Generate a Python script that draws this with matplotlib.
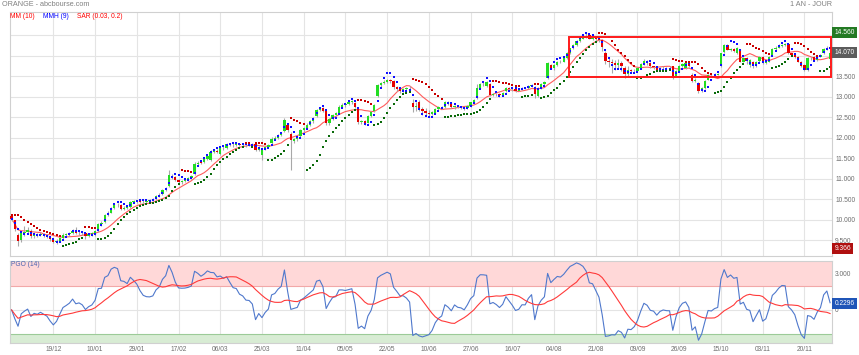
import numpy as np
import pandas as pd
import matplotlib
matplotlib.use('Agg')
import matplotlib.pyplot as plt
from matplotlib.patches import Rectangle
import matplotlib.transforms as mtransforms

plt.rcParams['font.family'] = ['Liberation Sans', 'DejaVu Sans']

# ---------------- data ----------------
date_labels = ['19/12', '10/01', '29/01', '17/02', '06/03', '25/03', '11/04', '05/05', '22/05',
               '10/06', '27/06', '16/07', '04/08', '21/08', '09/09', '26/09', '15/10', '03/11', '20/11']
first_label_idx = 13
label_step = 13

opens = [10.08, 9.98, 9.62, 9.50, 9.66, 9.70, 9.73, 9.60, 9.63, 9.62,
         9.64, 9.62, 9.58, 9.52, 9.46, 9.48, 9.55, 9.63, 9.65, 9.67,
         9.75, 9.67, 9.68, 9.66, 9.61, 9.64, 9.63, 9.72, 9.89, 9.94,
         10.11, 10.17, 10.29, 10.35, 10.35, 10.27, 10.29, 10.30, 10.44, 10.45,
         10.46, 10.44, 10.43, 10.45, 10.47, 10.50, 10.57, 10.62, 10.72, 10.82,
         11.07, 11.04, 10.97, 10.92, 10.94, 10.97, 11.01, 11.12, 11.36, 11.42,
         11.40, 11.48, 11.46, 11.66, 11.68, 11.60, 11.75, 11.75, 11.84, 11.82,
         11.81, 11.85, 11.82, 11.83, 11.82, 11.84, 11.85, 11.71, 11.57, 11.71,
         11.77, 11.87, 11.98, 12.00, 12.06, 12.16, 12.30, 12.10, 11.92, 11.97,
         12.03, 12.18, 12.24, 12.32, 12.40, 12.52, 12.68, 12.73, 12.64, 12.36,
         12.45, 12.55, 12.61, 12.76, 12.80, 12.82, 12.86, 12.85, 12.69, 12.38,
         12.41, 12.37, 12.52, 12.64, 13.02, 13.28, 13.34, 13.37, 13.40, 13.38,
         13.23, 13.18, 13.14, 13.19, 13.21, 12.84, 12.74, 12.86, 12.70, 12.64,
         12.61, 12.58, 12.59, 12.70, 12.74, 12.75, 12.88, 12.86, 12.74, 12.78,
         12.75, 12.74, 12.72, 12.78, 12.86, 12.96, 13.22, 13.30, 13.26, 13.32,
         13.04, 13.07, 13.06, 13.04, 13.14, 13.22, 13.20, 13.18, 13.15, 13.18,
         13.22, 13.21, 13.26, 13.24, 13.02, 13.22, 13.30, 13.46, 13.78, 13.70,
         13.78, 13.85, 13.86, 13.94, 14.06, 14.18, 14.26, 14.36, 14.42, 14.46,
         14.50, 14.42, 14.44, 14.41, 14.38, 14.06, 13.88, 13.86, 13.82, 13.78,
         13.82, 13.70, 13.55, 13.66, 13.62, 13.64, 13.70, 13.80, 13.88, 13.82,
         13.74, 13.74, 13.66, 13.70, 13.71, 13.70, 13.74, 13.50, 13.62, 13.74,
         13.70, 13.82, 13.54, 13.38, 13.34, 13.14, 13.22, 13.42, 13.54, 13.52,
         13.54, 13.74, 14.10, 14.27, 14.15, 14.17, 14.06, 14.15, 13.86, 13.94,
         13.78, 13.85, 13.74, 13.88, 13.98, 13.83, 13.86, 14.03, 14.17, 14.20,
         14.25, 14.27, 14.30, 14.06, 14.03, 13.98, 13.86, 13.78, 13.66, 13.94,
         13.98, 13.90, 13.98, 14.06, 14.17, 13.93]

highs = [10.12, 10.00, 9.66, 9.70, 9.85, 9.82, 9.78, 9.70, 9.68, 9.69,
         9.67, 9.65, 9.60, 9.55, 9.52, 9.58, 9.66, 9.68, 9.70, 9.76,
         9.82, 9.72, 9.71, 9.68, 9.67, 9.69, 9.74, 9.92, 9.96, 10.14,
         10.20, 10.31, 10.38, 10.40, 10.37, 10.32, 10.34, 10.46, 10.48, 10.49,
         10.48, 10.47, 10.47, 10.50, 10.53, 10.59, 10.64, 10.74, 10.80, 11.20,
         11.12, 11.06, 11.00, 10.97, 11.00, 11.04, 11.08, 11.40, 11.42, 11.45,
         11.50, 11.58, 11.70, 11.72, 11.72, 11.78, 11.79, 11.86, 11.87, 11.86,
         11.88, 11.87, 11.86, 11.85, 11.87, 11.88, 11.87, 11.79, 11.73, 11.80,
         11.84, 12.01, 12.03, 12.08, 12.13, 12.47, 12.33, 12.14, 12.00, 12.03,
         12.21, 12.27, 12.35, 12.43, 12.51, 12.71, 12.76, 12.75, 12.66, 12.48,
         12.58, 12.63, 12.79, 12.84, 12.85, 12.89, 12.93, 12.88, 12.71, 12.44,
         12.43, 12.55, 12.64, 12.83, 13.31, 13.37, 13.41, 13.44, 13.43, 13.40,
         13.26, 13.21, 13.22, 13.24, 13.26, 12.95, 12.88, 12.92, 12.76, 12.72,
         12.68, 12.66, 12.72, 12.77, 12.78, 12.90, 12.90, 12.88, 12.80, 12.80,
         12.77, 12.76, 12.81, 12.88, 12.94, 13.30, 13.34, 13.36, 13.39, 13.34,
         13.10, 13.09, 13.08, 13.12, 13.24, 13.24, 13.22, 13.20, 13.21, 13.25,
         13.24, 13.29, 13.31, 13.27, 13.25, 13.33, 13.39, 13.85, 13.80, 13.81,
         13.88, 13.90, 13.97, 14.09, 14.20, 14.29, 14.39, 14.45, 14.50, 14.56,
         14.53, 14.48, 14.46, 14.44, 14.42, 14.12, 13.98, 13.92, 13.90, 13.92,
         13.88, 13.76, 13.74, 13.68, 13.68, 13.73, 13.83, 13.91, 13.90, 13.84,
         13.76, 13.76, 13.73, 13.74, 13.73, 13.75, 13.76, 13.65, 13.77, 13.83,
         13.85, 13.84, 13.57, 13.46, 13.36, 13.25, 13.40, 13.56, 13.56, 13.57,
         13.59, 14.08, 14.30, 14.29, 14.20, 14.19, 14.21, 14.17, 13.97, 13.96,
         13.92, 13.87, 13.88, 14.00, 13.99, 13.89, 14.00, 14.19, 14.23, 14.28,
         14.30, 14.32, 14.32, 14.08, 14.05, 14.00, 13.88, 13.80, 13.96, 13.98,
         14.00, 14.00, 14.05, 14.19, 14.23, 14.10]

lows = [9.96, 9.72, 9.366, 9.46, 9.60, 9.64, 9.55, 9.56, 9.58, 9.59,
        9.58, 9.55, 9.48, 9.42, 9.41, 9.46, 9.53, 9.60, 9.61, 9.64,
        9.65, 9.62, 9.63, 9.52, 9.58, 9.61, 9.61, 9.70, 9.85, 9.92,
        10.08, 10.15, 10.26, 10.31, 10.24, 10.24, 10.26, 10.29, 10.40, 10.41,
        10.41, 10.40, 10.41, 10.43, 10.45, 10.48, 10.55, 10.60, 10.69, 10.80,
        11.00, 10.93, 10.89, 10.88, 10.91, 10.95, 10.99, 11.10, 11.32, 11.35,
        11.38, 11.46, 11.44, 11.62, 11.62, 11.58, 11.71, 11.73, 11.79, 11.78,
        11.79, 11.80, 11.79, 11.78, 11.80, 11.80, 11.68, 11.68, 11.45, 11.69,
        11.75, 11.85, 11.94, 11.97, 12.03, 12.14, 12.15, 11.22, 11.88, 11.93,
        12.01, 12.15, 12.21, 12.29, 12.37, 12.50, 12.65, 12.62, 12.30, 12.32,
        12.42, 12.52, 12.59, 12.73, 12.76, 12.80, 12.83, 12.72, 12.33, 12.34,
        12.32, 12.35, 12.50, 12.62, 13.00, 13.25, 13.31, 13.34, 13.34, 13.20,
        13.15, 13.10, 13.12, 13.16, 13.18, 12.62, 12.64, 12.64, 12.56, 12.52,
        12.50, 12.56, 12.57, 12.68, 12.71, 12.73, 12.79, 12.72, 12.71, 12.72,
        12.70, 12.68, 12.70, 12.76, 12.84, 12.94, 13.20, 13.26, 13.24, 13.02,
        13.01, 13.02, 13.00, 13.02, 13.12, 13.17, 13.15, 13.12, 13.13, 13.16,
        13.18, 13.19, 13.24, 12.98, 12.99, 13.20, 13.27, 13.44, 13.68, 13.66,
        13.76, 13.82, 13.84, 13.92, 14.04, 14.16, 14.24, 14.34, 14.40, 14.44,
        14.40, 14.39, 14.37, 14.34, 14.12, 13.80, 13.72, 13.58, 13.66, 13.68,
        13.64, 13.46, 13.50, 13.58, 13.59, 13.62, 13.68, 13.78, 13.78, 13.71,
        13.68, 13.64, 13.64, 13.66, 13.66, 13.67, 13.44, 13.48, 13.60, 13.72,
        13.68, 13.72, 13.36, 13.35, 13.10, 13.11, 13.20, 13.40, 13.49, 13.50,
        13.52, 13.72, 14.08, 14.13, 14.12, 14.09, 14.04, 13.84, 13.84, 13.80,
        13.72, 13.70, 13.72, 13.86, 13.80, 13.80, 13.84, 14.01, 14.14, 14.18,
        14.22, 14.24, 14.04, 13.99, 13.95, 13.84, 13.72, 13.62, 13.64, 13.90,
        13.88, 13.88, 13.96, 14.04, 14.14, 13.82]

closes = [10.02, 9.76, 9.47, 9.66, 9.70, 9.74, 9.59, 9.64, 9.62, 9.65,
          9.62, 9.59, 9.52, 9.46, 9.47, 9.54, 9.63, 9.65, 9.67, 9.71,
          9.67, 9.68, 9.66, 9.61, 9.64, 9.66, 9.72, 9.89, 9.92, 10.11,
          10.16, 10.29, 10.35, 10.36, 10.27, 10.29, 10.30, 10.44, 10.45, 10.46,
          10.44, 10.43, 10.45, 10.47, 10.50, 10.57, 10.61, 10.71, 10.78, 11.08,
          11.04, 10.96, 10.92, 10.94, 10.97, 11.01, 11.06, 11.36, 11.38, 11.39,
          11.47, 11.56, 11.66, 11.68, 11.66, 11.75, 11.76, 11.84, 11.82, 11.81,
          11.85, 11.82, 11.83, 11.82, 11.84, 11.83, 11.70, 11.76, 11.71, 11.77,
          11.81, 11.98, 12.00, 12.06, 12.10, 12.42, 12.19, 11.95, 11.98, 12.01,
          12.18, 12.24, 12.32, 12.40, 12.48, 12.68, 12.72, 12.65, 12.35, 12.45,
          12.55, 12.60, 12.76, 12.80, 12.82, 12.86, 12.90, 12.74, 12.38, 12.41,
          12.36, 12.52, 12.62, 12.80, 13.28, 13.34, 13.37, 13.40, 13.38, 13.23,
          13.18, 13.14, 13.19, 13.21, 13.22, 12.74, 12.77, 12.70, 12.64, 12.61,
          12.58, 12.62, 12.70, 12.74, 12.75, 12.88, 12.82, 12.74, 12.78, 12.75,
          12.74, 12.72, 12.78, 12.86, 12.91, 13.22, 13.30, 13.32, 13.36, 13.04,
          13.07, 13.06, 13.04, 13.10, 13.22, 13.20, 13.18, 13.15, 13.18, 13.22,
          13.21, 13.26, 13.28, 13.06, 13.22, 13.30, 13.36, 13.82, 13.70, 13.78,
          13.85, 13.86, 13.94, 14.06, 14.18, 14.26, 14.36, 14.42, 14.46, 14.48,
          14.42, 14.44, 14.41, 14.38, 14.22, 13.88, 13.86, 13.82, 13.78, 13.82,
          13.74, 13.55, 13.66, 13.62, 13.64, 13.70, 13.80, 13.88, 13.82, 13.74,
          13.72, 13.66, 13.70, 13.71, 13.70, 13.71, 13.46, 13.62, 13.74, 13.80,
          13.82, 13.74, 13.38, 13.42, 13.14, 13.22, 13.38, 13.54, 13.52, 13.54,
          13.56, 14.06, 14.27, 14.15, 14.17, 14.12, 14.19, 13.86, 13.94, 13.88,
          13.90, 13.74, 13.86, 13.98, 13.83, 13.86, 13.98, 14.17, 14.20, 14.25,
          14.27, 14.28, 14.06, 14.03, 13.98, 13.86, 13.74, 13.66, 13.94, 13.94,
          13.90, 13.98, 14.02, 14.17, 14.20, 14.07]

pgo_last_label = 0.2296
box_low, box_high = 13.49, 14.46          # user-drawn red rectangle (price levels)
box_start = 173.6                         # candle index where it starts

# ---------------- indicators ----------------
O = np.array(opens); H = np.array(highs); L = np.array(lows); C = np.array(closes)
n = len(C)
x = np.arange(n)


def wma(v, p):
    out = np.empty(len(v))
    for i in range(len(v)):
        k = min(p, i + 1)
        w = np.arange(1, k + 1)
        out[i] = np.dot(v[i - k + 1:i + 1], w) / w.sum()
    return out


def psar(h, l, start=0.03, step=0.03, amax=0.2):
    m = len(h)
    sar = np.empty(m)
    bull = np.empty(m, bool)
    up = False
    af = start
    ep = l[0]
    sar[0] = h[0]
    bull[0] = up
    for i in range(1, m):
        s = sar[i - 1] + af * (ep - sar[i - 1])
        if up:
            s = min(s, l[i - 1], l[max(i - 2, 0)])
            if l[i] < s:
                up = False; s = ep; ep = l[i]; af = start
            elif h[i] > ep:
                ep = h[i]; af = min(af + step, amax)
        else:
            s = max(s, h[i - 1], h[max(i - 2, 0)])
            if h[i] > s:
                up = True; s = ep; ep = h[i]; af = start
            elif l[i] < ep:
                ep = l[i]; af = min(af + step, amax)
        sar[i] = s
        bull[i] = up
    return sar, bull


mm10 = pd.Series(C).rolling(10, min_periods=1).mean().values
hma = wma(2 * wma(C, 4) - wma(C, 9), 3)
sar, sar_up = psar(H, L)

prev_c = np.r_[C[0], C[:-1]]
tr = np.maximum.reduce([H - L, np.abs(H - prev_c), np.abs(L - prev_c)])
atr = pd.Series(tr).ewm(span=14, adjust=False).mean().values
sma14 = pd.Series(C).rolling(14, min_periods=1).mean().values
pgo = (C - sma14) / atr
pgo_sig = pd.Series(pgo).rolling(14, min_periods=1).mean().values

# ---------------- figure ----------------
W, Hpx = 859, 355
fig = plt.figure(figsize=(W / 100, Hpx / 100), dpi=100)
fig.patch.set_facecolor('white')

ax = fig.add_axes([10 / W, 1 - 256 / Hpx, 822 / W, 244 / Hpx])
ax2 = fig.add_axes([10 / W, 1 - 342.5 / Hpx, 822 / W, 82 / Hpx])

label_pos = [first_label_idx + label_step * k for k in range(len(date_labels))]
grid_c = '#e4e4e4'
txt_c = '#6e6e6e'
fs = 4.8

for a in (ax, ax2):
    a.set_xlim(-0.5, 255.6)
    a.set_xticks(label_pos)
    a.grid(True, color=grid_c, lw=0.8, zorder=0)
    a.set_axisbelow(True)
    for s in a.spines.values():
        s.set_color('#d0d0d0')
        s.set_linewidth(0.8)
    a.yaxis.tick_right()
    a.tick_params(length=0, labelsize=fs, labelcolor=txt_c, pad=2.2)

# ---- main panel ----
ax.set_ylim(9.11, 15.07)
yt = np.arange(9.5, 14.51, 0.5)
ax.set_yticks(yt)
ax.set_yticklabels(['%.3f' % v if v < 13.9 else '' for v in yt])
ax.tick_params(axis='x', labelbottom=False)

ax.plot(x, mm10, color='#ff5c5c', lw=0.8, zorder=3)
ax.vlines(x, L, H, color='#a8a8a8', lw=0.8, zorder=4)
body = C - O
cols = np.where(body >= 0, '#22dd22', '#e60000')
ax.bar(x, np.where(np.abs(body) < 0.004, 0.004, body), bottom=O, width=0.72,
       color=cols, linewidth=0, zorder=5)
ax.plot(x, hma, 's', ms=1.7, mew=0, color='#1010ff', zorder=6)
ax.plot(x[sar_up], sar[sar_up], 's', ms=1.7, mew=0, color='#0a6a0a', zorder=6)
ax.plot(x[~sar_up], sar[~sar_up], 's', ms=1.7, mew=0, color='#c80000', zorder=6)

ax.add_patch(Rectangle((box_start, box_low), 255.3 - box_start, box_high - box_low,
                       fill=False, ec='#ff1a1a', lw=1.4, zorder=7))

trans = mtransforms.blended_transform_factory(ax.transAxes, ax.transData)
boxes = [(H.max(), '#237a23', 0), (C[-1], '#5c5c5c', 0), (L.min(), '#b01010', -0.07)]
for val, bc, dy in boxes:
    ax.text(1.003, val + dy, '%.3f' % val, transform=trans, fontsize=fs, color='white',
            va='center', ha='left',
            bbox=dict(boxstyle='square,pad=0.3', fc=bc, ec='none'), clip_on=False, zorder=10)

# ---- PGO panel ----
ax2.set_ylim(-2.7, 4.1)
ax2.axhspan(2, 4.1, color='#ffd8d8', zorder=1, lw=0)
ax2.axhline(2, color='#f2a8a8', lw=0.8, zorder=1)
ax2.axhspan(-2.7, -2, color='#d8ecd4', zorder=1, lw=0)
ax2.axhline(-2, color='#9ccb98', lw=0.8, zorder=1)
ax2.set_yticks([0, 3])
ax2.set_yticklabels(['0', '3.000'])
ax2.set_xticklabels(date_labels)
ax2.tick_params(axis='x', labelsize=fs, pad=2.5)
ax2.plot(x, pgo, color='#4f78cc', lw=0.8, zorder=4)
ax2.plot(x, pgo_sig, color='#ff3a3a', lw=0.8, zorder=4)
trans2 = mtransforms.blended_transform_factory(ax2.transAxes, ax2.transData)
ax2.text(1.003, pgo_last_label + 0.3, '%.4f' % pgo_last_label, transform=trans2, fontsize=fs,
         color='white', va='center', ha='left',
         bbox=dict(boxstyle='square,pad=0.3', fc='#1f55b8', ec='none'), clip_on=False, zorder=10)

# ---- texts ----
fig.text(2 / W, 1 - 5 / Hpx, 'ORANGE - abcbourse.com', fontsize=5.2, color='#808080', va='center', ha='left')
fig.text(832 / W, 1 - 5 / Hpx, '1 AN - JOUR', fontsize=5.2, color='#808080', va='center', ha='right')
fig.text(10 / W, 1 - 16.5 / Hpx, 'MM (10)', fontsize=fs, color='#ff0000', va='center', ha='left')
fig.text(43 / W, 1 - 16.5 / Hpx, 'MMH (9)', fontsize=fs, color='#0000ff', va='center', ha='left')
fig.text(77 / W, 1 - 16.5 / Hpx, 'SAR (0.03, 0.2)', fontsize=fs, color='#ff0000', va='center', ha='left')
fig.text(11 / W, 1 - 265 / Hpx, 'PGO (14)', fontsize=fs, color='#4a62b0', va='center', ha='left')

fig.savefig('out.png', dpi=100, facecolor='white')
